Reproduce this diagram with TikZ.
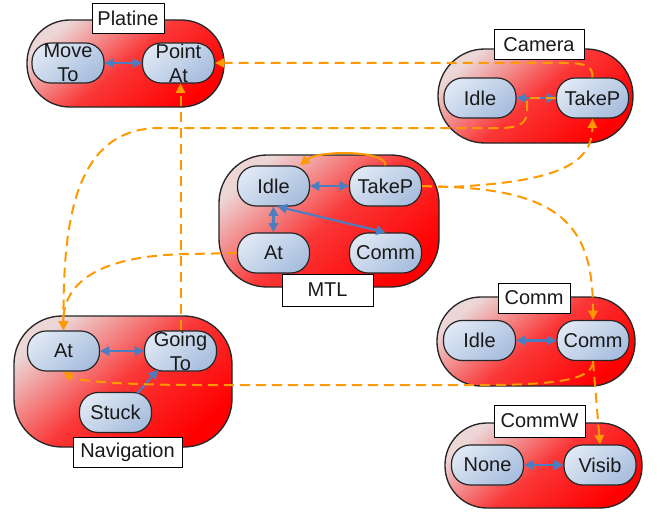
\documentclass[tikz,border=0pt]{standalone}
\usepackage{fontspec}
\setmainfont{Liberation Sans}
\usetikzlibrary{arrows.meta,calc}
\definecolor{orng}{RGB}{255,153,0}
\definecolor{blu}{RGB}{74,126,193}
\definecolor{nlight}{RGB}{222,231,243}
\definecolor{ndark}{RGB}{168,190,222}
\definecolor{clight}{RGB}{236,214,214}
\definecolor{cmid}{RGB}{250,55,55}
\begin{document}
\begin{tikzpicture}[x=0.75pt,y=-0.75pt,
  container/.style={draw=black!85,line width=1pt,inner sep=0pt,
    top color=clight,bottom color=red,middle color=cmid,shading angle=40},
  innernode/.style={draw=black!85,line width=0.9pt,rounded corners=14pt,
    minimum width=54pt,minimum height=30pt,inner sep=0pt,
    top color=nlight,bottom color=ndark,shading angle=40,
    align=center,font=\fontsize{15}{18}\selectfont,text=black!90},
  lbl/.style={draw=black,fill=white,line width=0.7pt,inner sep=0pt,
    minimum height=23pt,font=\fontsize{15}{18}\selectfont,text=black!90},
  barr/.style={blu,line width=1.6pt,
    {Triangle[length=7pt,width=7pt]}-{Triangle[length=7pt,width=7pt]}},
  barrone/.style={blu,line width=1.6pt,-{Triangle[length=7pt,width=7pt]}},
  oarr/.style={orng,line width=1.5pt,dash pattern=on 7.5pt off 4.5pt,
    -{Triangle[length=7pt,width=7pt]}},
  osolid/.style={orng,line width=1.5pt,-{Triangle[length=7pt,width=7pt]}}]

\fill[white] (0,0) rectangle (660,517);
\useasboundingbox (0,0) rectangle (660,517);

% containers
\node[container,rounded corners=32pt,minimum width=147.75pt,minimum height=65.25pt] (pC) at (125.5,63.5) {};
\node[container,rounded corners=35pt,minimum width=146.25pt,minimum height=70.5pt] (cC) at (535.5,96) {};
\node[container,rounded corners=36pt,minimum width=165pt,minimum height=99pt] (mC) at (329,221) {};
\node[container,rounded corners=36pt,minimum width=163.5pt,minimum height=98.25pt] (nC) at (123,381.5) {};
\node[container,rounded corners=33pt,minimum width=148.5pt,minimum height=66.75pt] (cmC) at (536,341.5) {};
\node[container,rounded corners=31.5pt,minimum width=147.75pt,minimum height=63.75pt] (cwC) at (543.5,465.5) {};

% labels
\node[lbl,minimum width=54pt] (pL) at (128,18.5) {Platine};
\node[lbl,minimum width=67.5pt] (cL) at (539,44.5) {Camera};
\node[lbl,minimum width=68.25pt,minimum height=24pt] (mL) at (327.5,290) {MTL};
\node[lbl,minimum width=81.75pt,minimum height=22.5pt] (nL) at (127.5,452) {Navigation};
\node[lbl,minimum width=54pt,minimum height=22.5pt] (cmL) at (534,298) {Comm};
\node[lbl,minimum width=68.25pt,minimum height=24pt] (cwL) at (539.5,421) {CommW};

% inner states
\node[innernode] (pMove) at (68,63) {Move\\To};
\node[innernode] (pPoint) at (178.5,63) {Point\\At};
\node[innernode] (cIdle) at (480,98) {Idle};
\node[innernode] (cTakeP) at (592.5,98) {TakeP};
\node[innernode] (mIdle) at (273.5,186) {Idle};
\node[innernode] (mTakeP) at (385.5,186) {TakeP};
\node[innernode] (mAt) at (273.5,253) {At};
\node[innernode] (mComm) at (385.5,253) {Comm};
\node[innernode] (nAt) at (63.5,351) {At};
\node[innernode] (nGoing) at (180.5,351) {Going\\To};
\node[innernode] (nStuck) at (115.5,412.5) {Stuck};
\node[innernode] (cmIdle) at (479.5,340.5) {Idle};
\node[innernode] (cmComm) at (593,340.5) {Comm};
\node[innernode] (cwNone) at (487.5,465) {None};
\node[innernode] (cwVisib) at (600,465) {Visib};

% blue internal transitions
\draw[barr] (pMove.east) -- (pPoint.west);
\draw[barr] (cIdle.east) -- (cTakeP.west);
\draw[barr] (mIdle.east) -- (mTakeP.west);
\draw[barr] (mIdle.south) -- (mAt.north);
\draw[barr] ([xshift=3pt]mIdle.south) -- (mComm.north);
\draw[barr] (nAt.east) -- (nGoing.west);
\draw[barrone] ([xshift=-11pt,yshift=-1pt]nStuck.north east) -- ([xshift=10.5pt,yshift=1.5pt]nGoing.south west);
\draw[barr] (cmIdle.east) -- (cmComm.west);
\draw[barr] (cwNone.east) -- (cwVisib.west);

% orange connectors
\draw[osolid] (mTakeP.north) .. controls (386,150) and (318,150) .. ([xshift=20pt]mIdle.north);
\draw[oarr] (cTakeP.north) .. controls (593,66) and (585,63) .. (565,63) -- (pPoint.east);
\draw[oarr] (cTakeP.west) -- (527,98) -- (527,112) .. controls (527,124) and (517,128) .. (500,128) -- (160,128) .. controls (75,128) and (63,220) .. (nAt.north);
\draw[oarr] (nGoing.north) -- (nGoing.north |- pPoint.south);
\draw[oarr] (mAt.west) -- (190,254) .. controls (95,255) and (63,285) .. (nAt.north);
\draw[oarr] (mTakeP.east) -- (450,187) .. controls (555,182) and (592,165) .. (cTakeP.south);
\draw[oarr] (mTakeP.east) -- (450,187) .. controls (565,192) and (593,230) .. (cmComm.north);
\draw[oarr] (cmComm.south) .. controls (593,378) and (565,385) .. (480,385) -- (200,385) .. controls (110,385) and (75,380) .. (nAt.south);
\draw[oarr] (cmComm.south) -- (cwVisib.north);
\end{tikzpicture}
\end{document}
